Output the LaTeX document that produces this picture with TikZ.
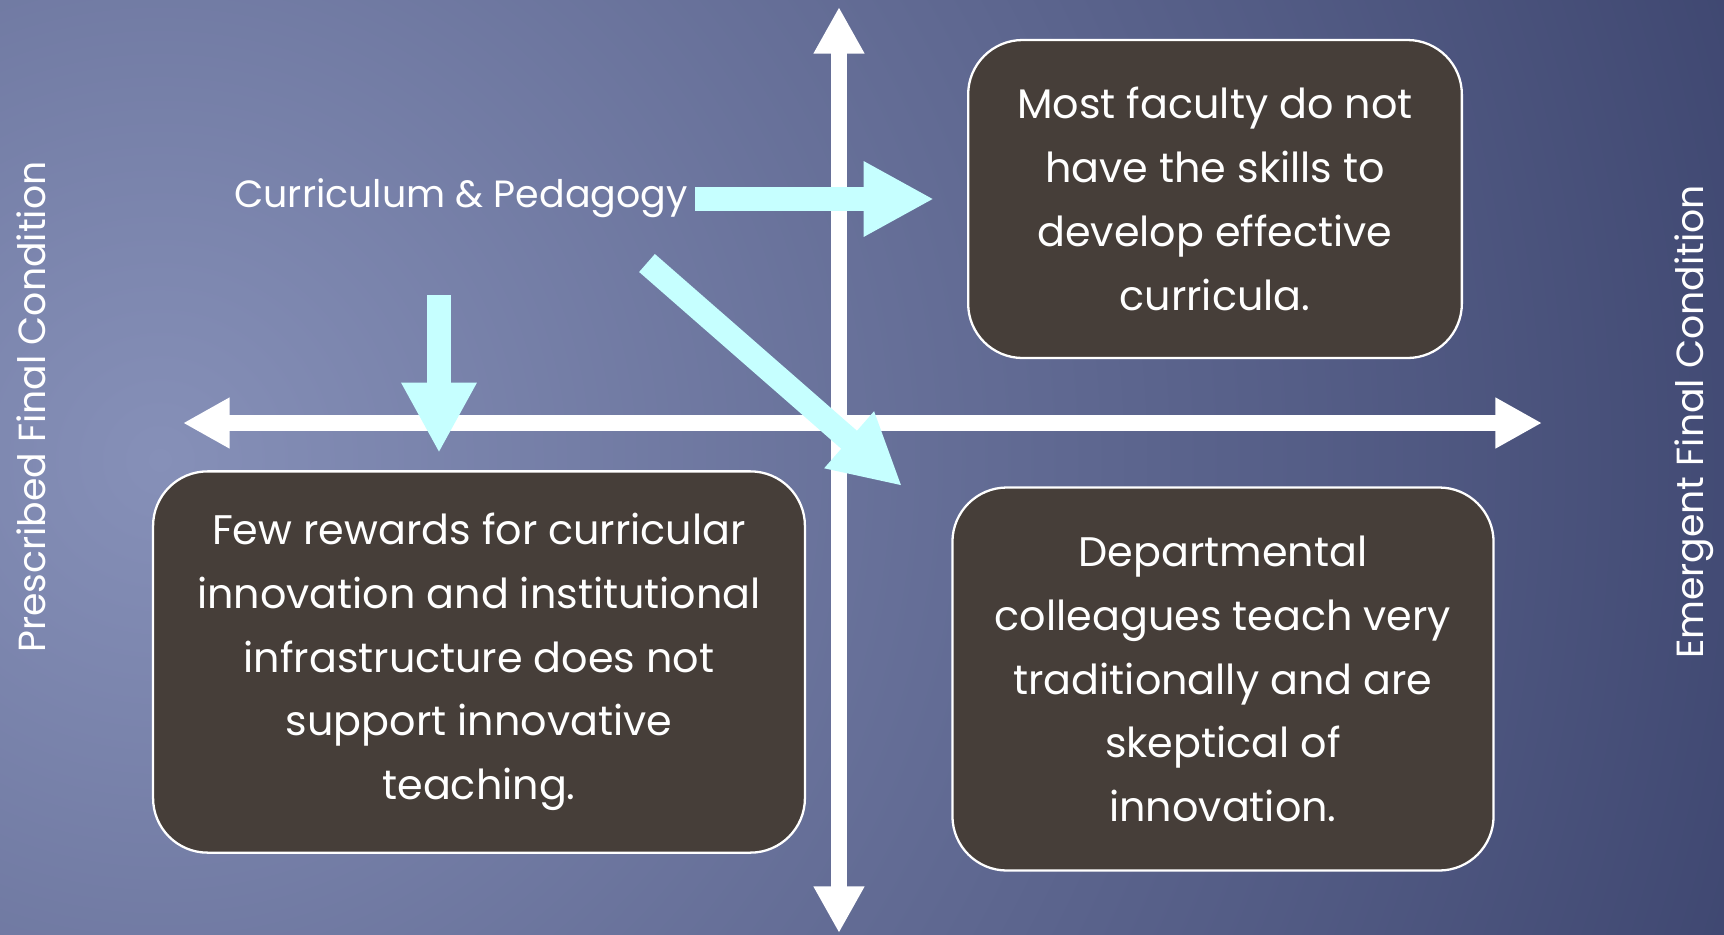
\documentclass[tikz,border=0pt]{standalone}
\usepackage{fontspec}
\setmainfont{Poppins}
\usetikzlibrary{positioning,arrows.meta,calc}
\definecolor{bglight}{RGB}{134,144,184}
\definecolor{bgdark}{RGB}{50,58,100}
\definecolor{boxfill}{RGB}{70,62,57}
\definecolor{pale}{RGB}{198,255,255}
\tikzset{>=stealth,
  box/.style={draw=white,line width=1.3pt,fill=boxfill,rounded corners=31pt,align=center,text=white,inner sep=0pt,font=\fontsize{23.5}{36.3}\selectfont},
  axis/.style={white,line width=9pt,{Triangle[length=26.6pt,width=27.2pt]}-{Triangle[length=26.6pt,width=27.2pt]}},
  push/.style={pale,line width=13.6pt,-{Triangle[length=40pt,width=40pt]}},
  side/.style={text=white,rotate=90,font=\fontsize{21.5}{24}\selectfont}}

\begin{document}
\begin{tikzpicture}[x=.02cm,y=-.02cm]
\useasboundingbox (0,0) rectangle (1724,934);
\begin{scope}
\clip (0,0) rectangle (1724,934);
\shade[inner color=bglight,outer color=bgdark] (160,460) circle (1950);
\end{scope}
% axes
\coordinate (top) at (839,7);
\coordinate (bottom) at (839,933);
\coordinate (left) at (183,423);
\coordinate (right) at (1542,423);
\draw[axis] (left) -- (right);
\draw[axis] (bottom) -- (top);
% side labels
\node[side] (pres) at (31,407) {Prescribed Final Condition};
\node[side] (emer) at (1694,422) {Emergent Final Condition};
% boxes
\node[box,minimum width=281pt,minimum height=181pt] (skills) at (1215,199)
  {Most faculty do not\\have the skills to\\develop effective\\curricula.};
\node[box,minimum width=371pt,minimum height=217pt] (rewards) at (479,662)
  {Few rewards for curricular\\innovation and institutional\\infrastructure does not\\support innovative\\teaching.};
\node[box,minimum width=308pt,minimum height=218pt] (colleagues) at (1223,679)
  {Departmental\\colleagues teach very\\traditionally and are\\skeptical of\\innovation.};
% curriculum label and its arrows
\node[text=white,font=\fontsize{21.6}{24}\selectfont] (cp) at (461,198) {Curriculum \& Pedagogy};
\coordinate (rstart) at (695,199);
\coordinate (rend) at (934,199);
\coordinate (dstart) at (439,295);
\coordinate (dend) at (439,453);
\coordinate (gstart) at (647,263);
\coordinate (gend) at (902,486);
\draw[push] (rstart) -- (rend);
\draw[push] (dstart) -- (dend);
\draw[push] (gstart) -- (gend);
\end{tikzpicture}
\end{document}
